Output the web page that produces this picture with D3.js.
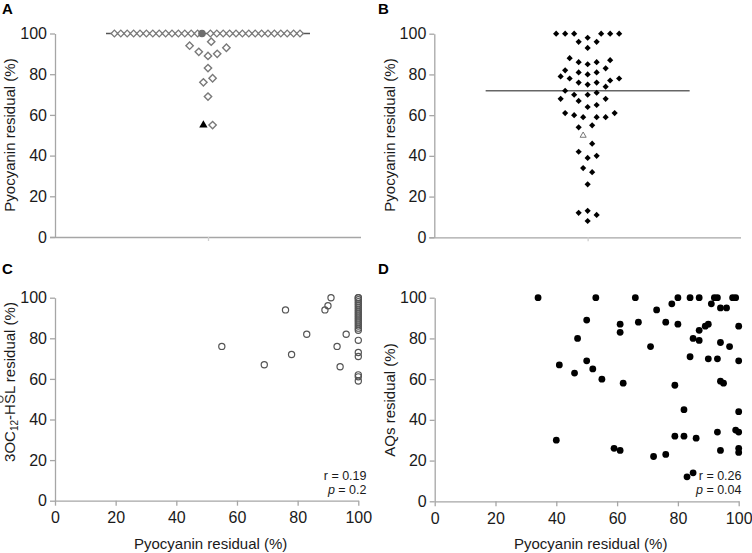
<!DOCTYPE html>
<html><head><meta charset="utf-8">
<script src="https://cdn.jsdelivr.net/npm/d3@7"></script>
<style>
body{margin:0;background:#fff;}
svg{display:block;font-family:"Liberation Sans",Arial,sans-serif;}
</style></head>
<body>
<svg id="chart" width="752" height="553"></svg>
<script>
// ---------- DATA ----------
const yTicks = [0, 20, 40, 60, 80, 100];
const xTicks = [0, 20, 40, 60, 80, 100];
const panelLetters = ["A", "B", "C", "D"];
const pyoLabel = "Pyocyanin residual (%)";

// Panel A: top row (value 100) slots, other diamonds, triangle
const aTopValue = 100;
const aTopSlots = [-14,-13,-12,-11,-10,-9,-8,-7,-6,-5,-4,-3,-2,-1,1,2,3,4,5,6,7,8,9,10,11,12,13,14,15];
const aTopFilledSlot = [0];
const aValues = [96, 94, 93, 91, 90, 89, 83, 78, 76, 69, 55];
const aSlots  = [0.7, -4, 4, -2, 2, 0, 0, 1, -1, 0, 1];
const aTriValues = [55];
const aTriSlots = [-1];
const aCentral = 100;

// Panel B
const bValues = [100,100,100,100,100,100, 98, 96,96, 93, 88, 87, 86,86, 85, 83, 82, 81,81, 80, 79, 78,78, 77, 76,76, 75, 74, 72, 71, 70,70, 68,68, 67, 65, 64, 61,61, 60, 59,59,59, 55, 54, 46, 42, 40, 39, 34, 32, 26, 13, 12, 11, 8];
const bSlots  = [-7,-5,-3,3,5,7, 0, -2,2, 0, -4, 5, -2,2, 0, 4, -5, -2,2, 0, -6, -4,7, 5, -2,2, 0, 4, -5, 2, -3,0, -6,4, -2, 2, 0, -5,6, -3, -1,2,4, 1, -2, 1, -2, 2, 0, -1, 1, 0, 0, -2, 2, 0];
const bTriValues = [50];
const bTriSlots = [-1];
const bCentral = 72;

// Panel C
const cX = [55,69,76,78,83,89,90,91,93,94,96, 100,100,100,100,100,100,100,100,100,100,100,100,100,100,100,100,100,100,100,100,100,100,100,100];
const cY = [76,67,94,72,82,94,96,100,76,66,82, 100,100,99,98,97,96,95,94,93,92,91,90,89,88,87,86,85,84,79,73,71,62,61,59,50];
const cStats = ["r = 0.19", "p = 0.2"];

// Panel D
const dX = [34,41,46,47,53,66,80,84,87,92,93,98,99,78,91,94,96,73,50,61,61,67,76,80,89,90,87,100,85,87,94,97,71,50,52,55,62,84,90,93,100,79,94,95,82,100,40,59,61,72,76,79,82,86,93,94,99,100,100,100,83,85];
const dY = [100,67,63,80,100,100,100,100,100,100,100,100,100,97,97,95,95,94,89,87,83,88,88,87,86,87,84,86,80,79,78,76,76,69,65,60,58,71,70,70,69,57,59,58,45,44,30,26,25,22,23,32,32,31,34,25,35,34,26,24,12,14];
const dStats = ["r = 0.26", "p = 0.04"];

// ---------- DRAW ----------
const svg = d3.select("#chart");
const axisCol = "#a6a6a6";
const textCol = "#1a1a1a";
const FS = 15;
const TFS = 16;

function styleAxis(g){
  g.selectAll("path.domain").attr("stroke", axisCol).attr("stroke-width", 1.3);
  g.selectAll(".tick line").attr("stroke", axisCol).attr("stroke-width", 1.3);
  g.selectAll(".tick text").attr("fill", textCol).style("font-size", TFS + "px")
    .style("font-family", '"Liberation Sans", Arial, sans-serif');
}

function letter(x, y, t){
  svg.append("text").attr("x", x).attr("y", y).text(t)
    .style("font-weight", "bold").style("font-size", "15px").attr("fill", "#000");
}

function yTitle(x, y, build){
  const t = svg.append("text").attr("transform", `translate(${x},${y}) rotate(-90)`)
    .attr("text-anchor", "middle").attr("fill", textCol).style("font-size", FS + "px");
  build(t);
}

function diamondPath(size){ return d3.symbol().type(d3.symbolSquare).size(size)(); }

// Panel A / B dot plots
function dotPanel(opts){
  const y = d3.scaleLinear().domain([0, 100]).range([opts.y0, opts.y1]);
  const x = d3.scalePoint().domain(["g"]).range([opts.x0, opts.x1]).padding(0.5);
  const cx = x("g");
  const slot = d3.scaleLinear().domain([0, 1]).range([0, opts.slotW]);
  const gy = svg.append("g").attr("transform", `translate(${opts.x0},0)`)
    .call(d3.axisLeft(y).tickValues(yTicks).tickSize(5).tickPadding(3).tickSizeOuter(0));
  styleAxis(gy);
  const gx = svg.append("g").attr("transform", `translate(0,${opts.y0})`)
    .call(d3.axisBottom(x).tickSize(4).tickSizeOuter(0).tickFormat(""));
  gx.select("path.domain").attr("d", `M${opts.x0 - 5},0.5H${opts.x1}`);
  styleAxis(gx);
  gx.selectAll(".tick line").attr("stroke", "#d0d0d0");
  svg.append("line").attr("x1", cx - 102).attr("x2", cx + 102)
    .attr("y1", y(opts.central)).attr("y2", y(opts.central))
    .attr("stroke", opts.lineCol).attr("stroke-width", 1.6);
  return {x, y, cx, slot};
}

// Panel A
{
  const p = dotPanel({x0: 55, x1: 361, y0: 237, y1: 33.5, slotW: 4.6, central: aCentral, lineCol: "#555"});
  const topSlot = d3.scaleLinear().domain([0, 1]).range([0, 6.4]);
  const topC = p.cx - 4;
  svg.append("g").selectAll("path").data(aTopSlots).join("path")
    .attr("d", diamondPath(22))
    .attr("transform", d => `translate(${topC + topSlot(d)},${p.y(aTopValue)}) rotate(45)`)
    .attr("fill", "#fff").attr("stroke", "#7a7a7a").attr("stroke-width", 1.3);
  svg.append("g").selectAll("circle").data(aTopFilledSlot).join("circle")
    .attr("cx", d => topC + topSlot(d) - 2).attr("cy", p.y(aTopValue)).attr("r", 3.8)
    .attr("fill", "#6e6e6e");
  svg.append("g").selectAll("path").data(aValues).join("path")
    .attr("d", diamondPath(27))
    .attr("transform", (d, i) => `translate(${p.cx + p.slot(aSlots[i])},${p.y(d)}) rotate(45)`)
    .attr("fill", "#fff").attr("stroke", "#7a7a7a").attr("stroke-width", 1.4);
  svg.append("g").selectAll("path").data(aTriValues).join("path")
    .attr("d", d3.symbol().type(d3.symbolTriangle).size(30)())
    .attr("transform", (d, i) => `translate(${p.cx + p.slot(aTriSlots[i])},${p.y(d)})`)
    .attr("fill", "#000");
  letter(2, 14, panelLetters[0]);
  yTitle(15, 135, t => t.text("Pyocyanin residual (%)"));
}

// Panel B
{
  const p = dotPanel({x0: 434.3, x1: 741, y0: 237.3, y1: 33.7, slotW: 4.5, central: bCentral, lineCol: "#666"});
  svg.append("g").selectAll("path").data(bValues).join("path")
    .attr("d", diamondPath(19))
    .attr("transform", (d, i) => `translate(${p.cx + p.slot(bSlots[i])},${p.y(d)}) rotate(45)`)
    .attr("fill", "#000");
  svg.append("g").selectAll("path").data(bTriValues).join("path")
    .attr("d", d3.symbol().type(d3.symbolTriangle).size(16)())
    .attr("transform", (d, i) => `translate(${p.cx + p.slot(bTriSlots[i])},${p.y(d)})`)
    .attr("fill", "#fff").attr("stroke", "#777").attr("stroke-width", 1);
  letter(378, 14, panelLetters[1]);
  yTitle(395, 135, t => t.text("Pyocyanin residual (%)"));
}

// Scatter panels
function scatterPanel(o){
  const x = d3.scaleLinear().domain([0, 100]).range([o.x0, o.x1]);
  const y = d3.scaleLinear().domain([0, 100]).range([o.y0, o.y1]);
  const gy = svg.append("g").attr("transform", `translate(${o.x0},0)`)
    .call(d3.axisLeft(y).tickValues(yTicks).tickSize(5).tickPadding(3).tickSizeOuter(0));
  styleAxis(gy);
  const gx = svg.append("g").attr("transform", `translate(0,${o.y0})`)
    .call(d3.axisBottom(x).tickValues(xTicks).tickSize(5).tickPadding(6).tickSizeOuter(0));
  styleAxis(gx);
  svg.append("text").attr("x", (o.x0 + o.x1) / 2 + 4).attr("y", 549).attr("text-anchor", "middle")
    .attr("fill", textCol).style("font-size", FS + "px").text(pyoLabel);
  const st = svg.append("g").attr("fill", textCol).style("font-size", "12.5px").attr("text-anchor", "end");
  st.append("text").attr("x", o.statX).attr("y", 480).text(o.stats[0]);
  const pt = st.append("text").attr("x", o.statX).attr("y", 494);
  const parts = o.stats[1].split(" ");
  pt.append("tspan").style("font-style", "italic").text(parts[0]);
  pt.append("tspan").text(" " + parts.slice(1).join(" "));
  return {x, y};
}

// Panel C
{
  const p = scatterPanel({x0: 55, x1: 358.3, y0: 500.7, y1: 297.7, statX: 366.5, stats: cStats});
  svg.append("g").selectAll("circle").data(cY).join("circle")
    .attr("cx", (d, i) => p.x(cX[i])).attr("cy", d => p.y(d)).attr("r", 3.1)
    .attr("fill", "none").attr("stroke", "#555").attr("stroke-width", 1.2);
  letter(2, 274, panelLetters[2]);
  yTitle(15, 382, t => {
    t.append("tspan").text("3OC");
    t.append("tspan").style("font-size", "10px").attr("dy", 3).text("12");
    t.append("tspan").attr("dy", -3).text("-HSL residual (%)");
  });
}

// Panel D
{
  const p = scatterPanel({x0: 434.7, x1: 738.7, y0: 501.3, y1: 297.7, statX: 741.5, stats: dStats});
  svg.append("g").selectAll("circle").data(dY).join("circle")
    .attr("cx", (d, i) => p.x(dX[i])).attr("cy", d => p.y(d)).attr("r", 3.4)
    .attr("fill", "#000");
  letter(378, 274, panelLetters[3]);
  yTitle(395, 400, t => t.text("AQs residual (%)"));
}
</script>
</body></html>
